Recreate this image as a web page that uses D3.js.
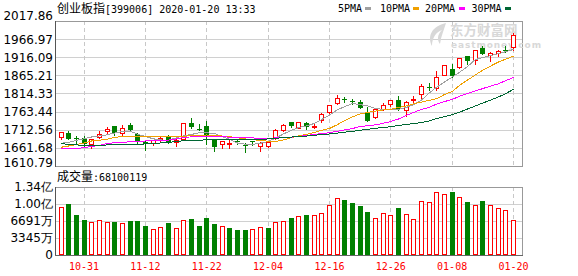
<!DOCTYPE html>
<html><head><meta charset="utf-8">
<script src="https://cdn.jsdelivr.net/npm/d3@7"></script>
<style>body{margin:0;background:#fff}svg{display:block}</style>
</head><body><svg id="c" width="578" height="276"></svg>
<script>
// ---------- DATA ----------
const dates = ["10-28","10-29","10-30","10-31","11-01","11-04","11-05","11-06","11-07","11-08",
"11-11","11-12","11-13","11-14","11-15","11-18","11-19","11-20","11-21","11-22",
"11-25","11-26","11-27","11-28","11-29","12-02","12-03","12-04","12-05","12-06",
"12-09","12-10","12-11","12-12","12-13","12-16","12-17","12-18","12-19","12-20",
"12-23","12-24","12-25","12-26","12-27","12-30","12-31","01-02","01-03","01-06",
"01-07","01-08","01-09","01-10","01-13","01-14","01-15","01-16","01-17","01-20"];
const tickDates = ["10-31","11-12","11-22","12-04","12-16","12-26","01-08","01-20"];

const opens = [1691.3,1702.5,1689,1688.5,1672.7,1693.2,1708.1,1722.1,1704.4,1725,
1701.6,1678.3,1676.4,1686,1693.2,1678.3,1685.7,1731.5,1714.7,1723.1,
1682.9,1671.7,1672.7,1682,1671,1680,1667,1667,1688.5,1711.9,
1734.3,1718.4,1730.6,1721,1739.9,1763.3,1786.6,1798.7,1793,1791.3,
1760,1747,1770,1783.8,1795,1768,1797,1813.7,1833,1828.6,
1866.9,1881.9,1887.5,1919.2,1907.1,1940.7,1923,1926.7,1935.5,1943.5];
const highs = [1706,1709,1694,1695,1687.5,1708.1,1720.3,1724,1725.9,1731.5,
1702.5,1682,1684.8,1695,1697.9,1688.5,1731.5,1746.4,1729.6,1737.1,
1684,1681,1683.9,1686,1674.5,1681,1678,1682,1715.6,1727.5,
1734.3,1735.2,1734.3,1731.5,1759.5,1781,1809,1804.3,1798.7,1796,
1777,1770.5,1786.6,1797,1807.1,1794,1806,1840.8,1842.6,1877,
1894,1895.9,1913.5,1920,1937,1947.3,1930.4,1936,1948.2,1984.6];
const lows = [1687.6,1686.7,1674.5,1667,1662.4,1688.5,1699.8,1697.9,1697.9,1711,
1673.6,1655.8,1669.9,1679,1676.4,1668,1683.9,1718.4,1711,1672.7,
1654,1662.4,1662.4,1673,1649.3,1669,1652.1,1665.2,1686.7,1710,
1720.3,1716.5,1715.6,1716.5,1735.2,1753,1783.8,1790.3,1784.7,1772.6,
1737,1745.5,1767.9,1780,1767.9,1752,1786.6,1801.5,1824,1824,
1866,1861.3,1886.6,1897.8,1895.9,1923.9,1905.2,1919.2,1930.4,1936];
const closes = [1705.3,1687.6,1688,1672.7,1686.7,1699.8,1714.7,1704.4,1717.5,1711.9,
1678.3,1672.7,1682.9,1688,1678.3,1683.9,1731.5,1720.3,1713,1697.9,
1665.2,1680.2,1674.5,1679,1669.5,1679,1676.4,1677.3,1711.9,1726.8,
1724,1733.4,1721.2,1722.5,1755.8,1781,1800.6,1795.9,1792,1774.5,
1738,1769.5,1783.2,1795,1769.8,1790.3,1799.8,1835.2,1831.5,1859.4,
1893,1863.2,1912.7,1905.2,1935.1,1925.8,1926.7,1932.3,1934.5,1979];

const volumes = [93700000,100100000,79000000,69100000,64200000,68100000,64200000,65100000,63200000,67100000,
67100000,57200000,50300000,54300000,63200000,52300000,68100000,71100000,57200000,73000000,
61200000,56300000,53300000,49400000,49400000,50300000,54300000,53300000,64200000,66100000,
73000000,76000000,79000000,78000000,81900000,97700000,111500000,107600000,101700000,95700000,
84900000,72100000,81900000,79000000,91800000,80900000,70100000,105600000,103600000,124400000,
119400000,124400000,113500000,103600000,97700000,105600000,97700000,91800000,88800000,68100119];
const volUp = [1,0,0,0,1,1,1,0,1,0, 0,0,1,1,0,1,1,0,0,0, 0,1,0,0,0,1,1,0,1,1,
0,1,0,1,1,1,1,0,0,0, 0,1,1,1,0,1,1,1,1,1, 1,0,1,0,1,0,1,1,1,1];

const ma5 = [1674.6,1676.9,1682.5,1687.2,1692.3,1695.1,1698.4,1703.5,1707.7,1709.1,
1699.8,1693.7,1687.2,1683.9,1683,1689.5,1695.6,1699.3,1704,1704,
1702.1,1693.7,1685.3,1675.4,1672.1,1671.8,1674.6,1679.6,1689.5,1700.7,
1710.5,1718.9,1723.1,1730.1,1741.3,1753.9,1767.9,1777.7,1786.1,1783.3,
1779.1,1772.1,1769.9,1769.9,1769.9,1774.9,1783.3,1795.9,1815.6,1832.4,
1846.4,1860.4,1874.4,1889.8,1909.4,1915,1920.6,1926.2,1931.8,1938];
const ma10 = [1663.4,1667,1671.2,1675.4,1681.1,1683,1685.8,1690.9,1694.2,1694.2,
1694.2,1694.2,1694.2,1694.2,1694.2,1693.4,1694.5,1695.6,1697,1697.9,
1697,1695.1,1692.8,1690.3,1686.9,1684.7,1682.5,1680.5,1679.4,1683.9,
1690,1695.6,1699.3,1704.9,1711,1716.1,1726.4,1738.5,1748.9,1756.7,
1761.5,1765.1,1767.9,1769.9,1774.9,1779.1,1785.3,1790.3,1795.1,1800.1,
1811.4,1819.8,1838,1852,1866,1880,1891.2,1902.4,1910.8,1919.2];
const ma20 = [1659.5,1659.2,1658.9,1662.8,1665.6,1668.4,1673.8,1676,1677.1,1678.8,
1679.9,1681,1681.9,1682.7,1683.6,1686.7,1690.9,1692.6,1693.7,1694.2,
1694.2,1693.1,1691.7,1691.2,1690.6,1689.5,1688.6,1688.9,1689.5,1690.6,
1691.7,1693.7,1696.5,1699,1701.8,1704.3,1708.2,1712.4,1715.8,1721.9,
1723.6,1726.4,1730.6,1735.7,1742.7,1752.5,1761.5,1769.3,1775.5,1784.7,
1791.8,1797.3,1807.2,1814.2,1821.2,1828.2,1835.2,1841.3,1850.6,1859.5];
const ma30 = [1673.5,1671.5,1669.8,1669.3,1669,1669.3,1669.8,1670.4,1670.7,1671.2,
1671.8,1672.7,1674.1,1675.4,1677.4,1679.1,1682.1,1683.3,1683.6,1683.9,
1684.1,1684.4,1684.7,1684.4,1684.1,1684.4,1685.3,1686.7,1688.3,1690.6,
1692,1693.4,1694.8,1697,1699,1700.7,1702.9,1705.7,1708.2,1711,
1713.8,1716.6,1718.9,1721.1,1724.5,1727.3,1730.1,1732.9,1737.1,1744.1,
1749.7,1754.5,1762.3,1770.7,1779.1,1787.5,1795.9,1804.3,1814.2,1826.2];

const priceTicks = [2017.86,1966.97,1916.09,1865.21,1814.33,1763.44,1712.56,1661.68,1610.79];
const volTickValues = [0,33455000,66910000,100365000,133820000];
const volTickLabels = ["0","3345万","6691万","1.00亿","1.34亿"];
const legendLabels = ["5PMA","10PMA","20PMA","30PMA"];
const titleCN = "创业板指";
const titleRest = "[399006] 2020-01-20 13:33";
const volTitleCN = "成交量";
const volTitleRest = ":68100119";

// ---------- STYLE / LAYOUT ----------
const maColors = ["#a0a0a0","#f0a000","#ff00ff","#006633"];
const UP = "#ff0000", DOWN = "#008000";
const P = {l:55, r:522, t:21, b:166};
const V = {t:187, b:255};
const mono = "'DejaVu Sans Mono', monospace";
const cjk = "'Noto Sans CJK SC', sans-serif";
const sans = "'DejaVu Sans', sans-serif";

const svg = d3.select("#c");
const x = d3.scaleLinear().domain([0, dates.length - 1]).range([60.5, 513]);
const y = d3.scaleLinear().domain([priceTicks[priceTicks.length-1], priceTicks[0]]).range([P.b, P.t]);
const vy = d3.scaleLinear().domain([0, volTickValues[volTickValues.length-1]]).range([V.b, V.t]);
const px = i => Math.round(x(i));

// title
const tt = svg.append("text").attr("x", 57).attr("y", 13).attr("fill", "#000");
tt.append("tspan").attr("font-family", cjk).attr("font-size", 12).text(titleCN);
tt.append("tspan").attr("font-family", mono).attr("font-size", 10).text(titleRest);

// legend
const legX = [338, 380, 425, 471.5];
const legSq = [365, 413, 459, 505];
legendLabels.forEach((l, k) => {
  svg.append("text").attr("x", legX[k]).attr("y", 12).attr("font-family", mono)
     .attr("font-size", 10).attr("fill", "#000").text(l);
  svg.append("rect").attr("x", legSq[k]).attr("y", 7).attr("width", 6).attr("height", 3)
     .attr("fill", maColors[k]);
});

// grid price
const g = svg.append("g").attr("shape-rendering", "crispEdges");
priceTicks.forEach(v => {
  g.append("line").attr("x1", P.l).attr("x2", P.r).attr("y1", Math.round(y(v)) + 0.5).attr("y2", Math.round(y(v)) + 0.5)
   .attr("stroke", "#d0d0d0");
});
volTickValues.slice(1, -1).forEach(v => {
  g.append("line").attr("x1", P.l).attr("x2", P.r).attr("y1", Math.round(vy(v)) + 0.5).attr("y2", Math.round(vy(v)) + 0.5)
   .attr("stroke", "#d0d0d0");
});
const tickIdx = tickDates.map(d => dates.indexOf(d));
tickIdx.forEach(i => {
  [[P.t, P.b], [V.t, V.b]].forEach(([a, b]) => {
    g.append("line").attr("x1", px(i) + 0.5).attr("x2", px(i) + 0.5).attr("y1", a).attr("y2", b)
     .attr("stroke", "#c8c8c8").attr("stroke-dasharray", "4,3");
  });
});

// watermark
const wm = svg.append("g");
wm.append("path").attr("d", "M446,23 C432,26 427,36 432,46 C432,38 436,32 442,30 C437,35 437,40 440,44 C441,36 444,30 446,23 Z")
  .attr("fill", "#d8d8d8");
wm.append("text").attr("x", 450).attr("y", 35).attr("font-family", cjk).attr("font-size", 13.5)
  .attr("font-weight", "bold").attr("fill", "#d8d8d8").text("东方财富网");
wm.append("text").attr("x", 451).attr("y", 48).attr("font-family", sans).attr("font-size", 9)
  .attr("font-weight", "bold").attr("letter-spacing", 0.9).attr("fill", "#d8d8d8").text("eastmoney.com");

// borders
g.append("rect").attr("x", P.l + 0.5).attr("y", P.t + 0.5).attr("width", P.r - P.l).attr("height", P.b - P.t)
 .attr("fill", "none").attr("stroke", "#999");
g.append("rect").attr("x", P.l + 0.5).attr("y", V.t + 0.5).attr("width", P.r - P.l).attr("height", V.b - V.t)
 .attr("fill", "none").attr("stroke", "#999");
g.append("line").attr("x1", P.l + 0.5).attr("x2", P.l + 0.5).attr("y1", P.t).attr("y2", P.b + 1).attr("stroke", "#555");
g.append("line").attr("x1", P.l + 0.5).attr("x2", P.l + 0.5).attr("y1", V.t).attr("y2", V.b + 1).attr("stroke", "#555");
g.append("line").attr("x1", P.l).attr("x2", P.r + 1).attr("y1", V.b + 0.5).attr("y2", V.b + 0.5).attr("stroke", "#666");

// y labels
priceTicks.forEach((v, k) => {
  let yy = y(v) + 4.5;
  if (k === 0) yy = y(v) - 1;
  if (k === priceTicks.length - 1) yy = y(v) + 0.5;
  svg.append("text").attr("x", 53).attr("y", yy).attr("text-anchor", "end")
     .attr("font-family", sans).attr("font-size", 12).attr("fill", "#000").text(d3.format(".2f")(v));
});
volTickValues.forEach((v, k) => {
  svg.append("text").attr("x", 53).attr("y", vy(v) + 3.5).attr("text-anchor", "end")
     .attr("font-family", sans).attr("font-size", 12).attr("fill", "#000").text(volTickLabels[k]);
});

// volume title
const vt = svg.append("text").attr("x", 57).attr("y", 181).attr("fill", "#000");
vt.append("tspan").attr("font-family", cjk).attr("font-size", 12).text(volTitleCN);
vt.append("tspan").attr("font-family", mono).attr("font-size", 10).text(volTitleRest);

// x labels
tickIdx.forEach((i, k) => {
  svg.append("text").attr("x", x(i) + 0.5).attr("y", 270).attr("text-anchor", "middle")
     .attr("font-family", mono).attr("font-size", 10).attr("fill", "#ff0000").text(tickDates[k]);
});

// candles
const cg = svg.append("g").attr("shape-rendering", "crispEdges");
dates.forEach((d, i) => {
  const up = closes[i] >= opens[i];
  const col = up ? UP : DOWN;
  const cx = px(i);
  cg.append("line").attr("x1", cx + 0.5).attr("x2", cx + 0.5)
    .attr("y1", Math.round(y(highs[i]))).attr("y2", Math.round(y(lows[i])) + 1).attr("stroke", col);
  const top = Math.round(y(Math.max(opens[i], closes[i])));
  const bot = Math.round(y(Math.min(opens[i], closes[i])));
  if (up) {
    cg.append("rect").attr("x", cx - 2 + 0.5).attr("y", top + 0.5).attr("width", 4).attr("height", Math.max(bot - top, 1))
      .attr("fill", "#fff").attr("stroke", col);
  } else {
    cg.append("rect").attr("x", cx - 2).attr("y", top).attr("width", 5).attr("height", Math.max(bot - top, 1))
      .attr("fill", col);
  }
  // volume
  const vtop = Math.round(vy(volumes[i]));
  const vbot = Math.round(vy(0));
  if (volUp[i]) {
    cg.append("rect").attr("x", cx - 2 + 0.5).attr("y", vtop + 0.5).attr("width", 4).attr("height", vbot - vtop - 1)
      .attr("fill", "#fff").attr("stroke", UP);
  } else {
    cg.append("rect").attr("x", cx - 2).attr("y", vtop).attr("width", 5).attr("height", vbot - vtop)
      .attr("fill", DOWN);
  }
});

// MA lines
[ma5, ma10, ma20, ma30].forEach((arr, k) => {
  const line = d3.line().x((d, i) => x(i) + 0.5).y(d => y(d));
  svg.append("path").attr("d", line(arr)).attr("fill", "none").attr("stroke", maColors[k])
     .attr("stroke-width", 1).attr("shape-rendering", "crispEdges");
});
</script></body></html>
